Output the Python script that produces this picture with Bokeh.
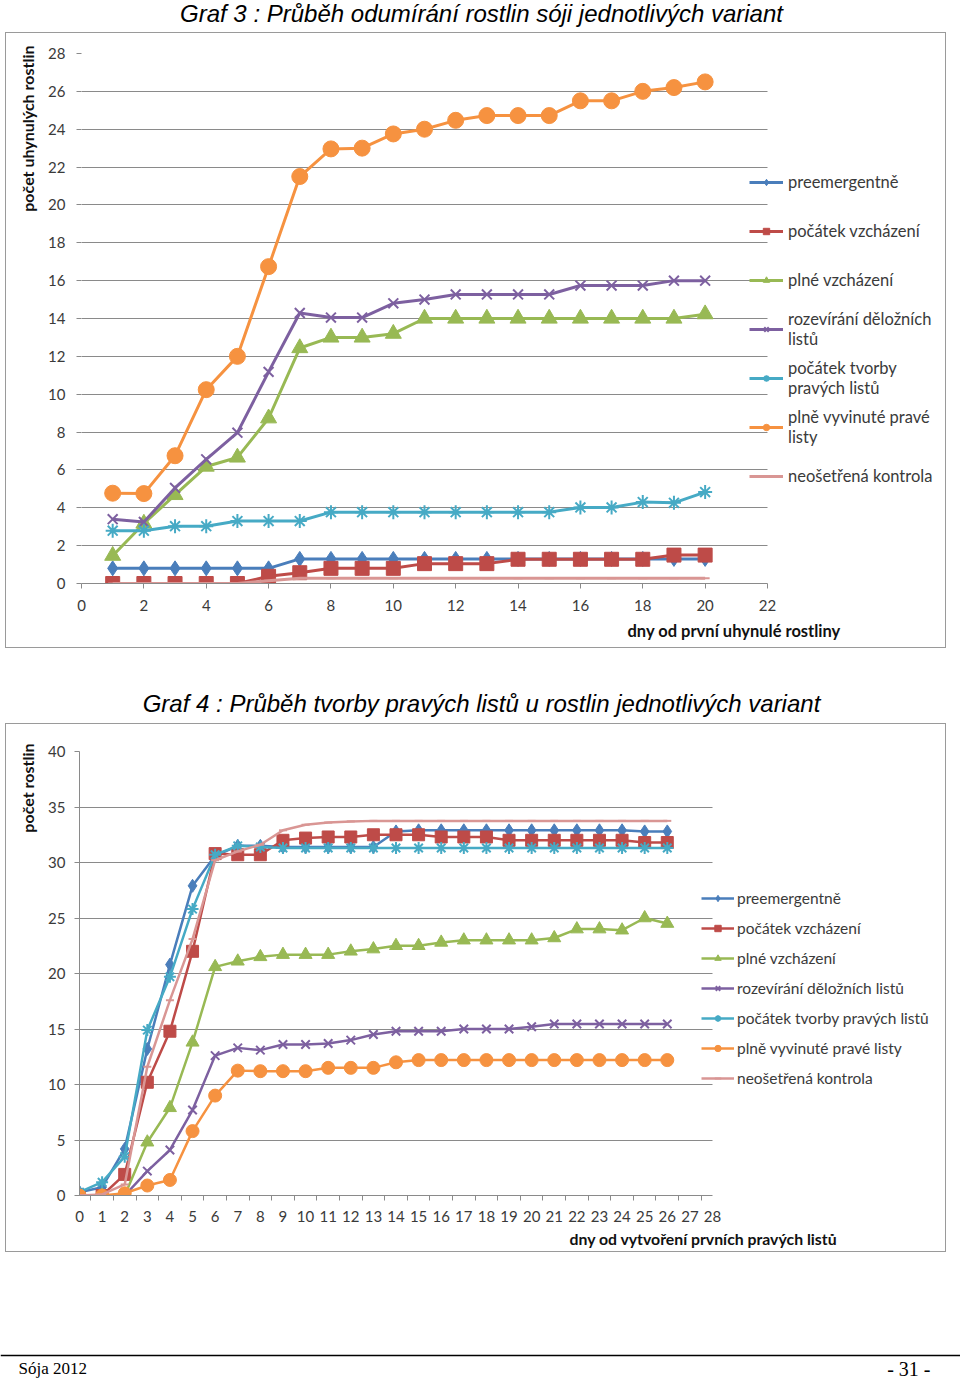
from bokeh.plotting import figure
from bokeh.models import Range1d, FixedTicker, Legend, LegendItem, Title, Span, Grid
from bokeh.core.properties import value
from bokeh.embed import file_html
from bokeh.resources import INLINE

# ---------------- data ----------------
series_names = ["preemergentně", "počátek vzcházení", "plné vzcházení",
                "rozevírání děložních listů", "počátek tvorby pravých listů",
                "plně vyvinuté pravé listy", "neošetřená kontrola"]
g3_legend_labels = ["preemergentně", "počátek vzcházení", "plné vzcházení",
                    "rozevírání děložních\nlistů", "počátek tvorby\npravých listů",
                    "plně vyvinuté pravé\nlisty", "neošetřená kontrola"]

g3_title = "Graf 3 : Průběh odumírání rostlin sóji jednotlivých variant"
g3_xlabel = "dny od první uhynulé rostliny"
g3_ylabel = "počet uhynulých rostlin"
g3_days = [1, 2, 3, 4, 5, 6, 7, 8, 9, 10, 11, 12, 13, 14, 15, 16, 17, 18, 19, 20]
g3_preemergentne = [0.8, 0.8, 0.8, 0.8, 0.8, 0.8, 1.3, 1.3, 1.3, 1.3, 1.3, 1.3, 1.3, 1.3, 1.3, 1.3, 1.3, 1.3, 1.3, 1.3]
g3_pocatek_vzchazeni = [0, 0, 0, 0, 0, 0.38, 0.57, 0.8, 0.8, 0.8, 1.05, 1.05, 1.05, 1.28, 1.28, 1.28, 1.28, 1.28, 1.5, 1.5]
g3_plne_vzchazeni = [1.47, 3.17, 4.68, 6.18, 6.66, 8.73, 12.44, 13.0, 13.0, 13.2, 14.0, 14.0, 14.0, 14.0, 14.0, 14.0, 14.0, 14.0, 14.0, 14.23]
g3_rozevirani = [3.4, 3.25, 5.05, 6.56, 7.97, 11.18, 14.29, 14.05, 14.05, 14.8, 15.0, 15.27, 15.27, 15.27, 15.27, 15.74, 15.74, 15.74, 16.0, 16.0]
g3_pocatek_tvorby = [2.79, 2.79, 3.03, 3.03, 3.3, 3.3, 3.3, 3.77, 3.77, 3.77, 3.77, 3.77, 3.77, 3.77, 3.77, 4.02, 4.02, 4.3, 4.26, 4.83]
g3_plne_vyvinute = [4.77, 4.75, 6.75, 10.24, 12.0, 16.74, 21.5, 22.96, 23.0, 23.75, 24.0, 24.47, 24.72, 24.72, 24.72, 25.5, 25.5, 26.0, 26.2, 26.5]
g3_kontrola = [0, 0, 0, 0, 0, 0.15, 0.28, 0.28, 0.28, 0.28, 0.28, 0.28, 0.28, 0.28, 0.28, 0.28, 0.28, 0.28, 0.28, 0.28]
g3_xticks = [0, 2, 4, 6, 8, 10, 12, 14, 16, 18, 20, 22]
g3_yticks = [0, 2, 4, 6, 8, 10, 12, 14, 16, 18, 20, 22, 24, 26, 28]

g4_title = "Graf 4 : Průběh tvorby pravých listů u rostlin jednotlivých variant"
g4_xlabel = "dny od vytvoření prvních pravých listů"
g4_ylabel = "počet rostlin"
g4_days = [0, 1, 2, 3, 4, 5, 6, 7, 8, 9, 10, 11, 12, 13, 14, 15, 16, 17, 18, 19, 20, 21, 22, 23, 24, 25, 26]
g4_preemergentne = [0.3, 0.75, 4.2, 13.2, 20.8, 27.9, 30.6, 31.5, 31.5, 31.4, 31.4, 31.4, 31.4, 31.4, 32.8, 32.9, 32.9, 32.9, 32.9, 32.9, 32.9, 32.9, 32.9, 32.9, 32.9, 32.8, 32.8]
g4_pocatek_vzchazeni = [0, 0, 1.9, 10.2, 14.8, 22.0, 30.8, 30.7, 30.7, 32.0, 32.2, 32.3, 32.3, 32.5, 32.5, 32.5, 32.3, 32.3, 32.3, 32.0, 32.0, 32.0, 32.0, 32.0, 32.0, 31.8, 31.8]
g4_plne_vzchazeni = [0, 0, 0, 4.8, 7.9, 13.8, 20.6, 21.1, 21.5, 21.7, 21.7, 21.7, 22.0, 22.2, 22.5, 22.5, 22.8, 23.0, 23.0, 23.0, 23.0, 23.2, 24.0, 24.0, 23.9, 25.0, 24.5]
g4_rozevirani = [0, 0, 0, 2.2, 4.1, 7.7, 12.6, 13.3, 13.1, 13.6, 13.6, 13.7, 14.0, 14.5, 14.8, 14.8, 14.8, 15.0, 15.0, 15.0, 15.2, 15.45, 15.45, 15.45, 15.45, 15.45, 15.45]
g4_pocatek_tvorby = [0.3, 1.2, 3.5, 14.9, 19.7, 25.8, 30.7, 31.5, 31.4, 31.3, 31.3, 31.3, 31.3, 31.3, 31.3, 31.3, 31.3, 31.3, 31.3, 31.3, 31.3, 31.3, 31.3, 31.3, 31.3, 31.3, 31.3]
g4_plne_vyvinute = [0, 0, 0.2, 0.9, 1.4, 5.8, 9.0, 11.25, 11.2, 11.2, 11.2, 11.5, 11.5, 11.5, 12.0, 12.2, 12.2, 12.2, 12.2, 12.2, 12.2, 12.2, 12.2, 12.2, 12.2, 12.2, 12.2]
g4_kontrola = [0, 0.1, 1.0, 11.6, 17.6, 23.1, 30.2, 31.0, 31.6, 32.9, 33.4, 33.6, 33.7, 33.75, 33.75, 33.75, 33.75, 33.75, 33.75, 33.75, 33.75, 33.75, 33.75, 33.75, 33.75, 33.75, 33.75]
g4_xticks = [0, 1, 2, 3, 4, 5, 6, 7, 8, 9, 10, 11, 12, 13, 14, 15, 16, 17, 18, 19, 20, 21, 22, 23, 24, 25, 26, 27, 28]
g4_yticks = [0, 5, 10, 15, 20, 25, 30, 35, 40]

footer_left = "Sója 2012"
footer_right = "- 31 -"

# ---------------- style ----------------
COLORS = ["#4A7EBB", "#BE4B48", "#98B954", "#7D60A0", "#46AAC5", "#F69240", "#D99694"]
MARKERS = ["diamond", "square", "triangle", "x", "asterisk", "circle", "dash"]
GRID = "#8a8a8a"
TXT = "#3a3a3a"
FONT = "Lato"
HAS_CROSS = "cross_bounds" in Grid.properties()


def text_fig(width, height):
    f = figure(width=width, height=height, x_range=Range1d(0, width), y_range=Range1d(height, 0),
               output_backend="svg", toolbar_location=None, x_axis_type=None, y_axis_type=None,
               min_border=0)
    f.outline_line_color = None
    f.grid.visible = False
    return f


def chart(width, height, x_axis_end, x_view_end, yr, yticks, borders,
          xlabel, xoff, xsize, xstand, ylabel, yoff, ysize, ystand):
    l, r, t, b = borders
    p = figure(width=width, height=height, x_range=Range1d(0, x_view_end), y_range=Range1d(*yr),
               output_backend="svg", toolbar_location=None,
               min_border_left=l, min_border_right=r, min_border_top=t, min_border_bottom=b,
               margin=(0, 0, 0, 5))
    p.styles = {"border": "1px solid #9a9a9a", "box-sizing": "border-box"}
    p.outline_line_color = None
    p.xgrid.visible = False
    p.yaxis[0].ticker = FixedTicker(ticks=yticks)
    if HAS_CROSS:
        p.ygrid.grid_line_color = GRID
        p.ygrid.cross_bounds = (0, x_axis_end)
    else:
        p.ygrid.visible = False
        p.segment(x0=[0] * len(yticks), x1=[x_axis_end] * len(yticks), y0=yticks, y1=yticks,
                  line_color=GRID, line_width=1)
    p.xaxis[0].bounds = (0, x_axis_end)
    for ax in (p.xaxis[0], p.yaxis[0]):
        ax.major_label_text_font = FONT
        ax.major_label_text_font_size = "15px"
        ax.major_label_text_color = TXT
        ax.major_tick_in = 0
        ax.minor_tick_in = 0
        ax.minor_tick_out = 0
        ax.major_tick_line_color = GRID
        ax.axis_line_color = GRID
    p.add_layout(Title(text=xlabel, align="left", offset=xoff, text_font=FONT,
                       text_font_size=xsize, text_font_style="bold", text_color="#111111",
                       standoff=xstand), "below")
    p.add_layout(Title(text=ylabel, align="right", offset=yoff, text_font=FONT,
                       text_font_size=ysize, text_font_style="bold", text_color="#111111",
                       standoff=ystand), "left")
    return p


def add_series(p, xs, ys_list, labels, msizes, lw):
    items = []
    for i, ys in enumerate(ys_list):
        c = COLORS[i]
        ln = p.line(xs, ys, line_color=c, line_width=lw, line_join="round")
        mk = p.scatter(xs, ys, marker=MARKERS[i], size=msizes[i], fill_color=c,
                       line_color=c, line_width=2 if MARKERS[i] in ("x", "asterisk", "dash") else 1)
        items.append(LegendItem(label=labels[i], renderers=[ln, mk]))
    return items


# ---------------- title 1 ----------------
t1 = text_fig(960, 32)
t1.text(x=[481], y=[13], text=[g3_title], text_align="center", text_baseline="middle",
        text_font=value("Liberation Sans"), text_font_style="italic", text_font_size="24px",
        text_color="#000000")

# ---------------- chart 1 ----------------
# plot frame: page x 80 .. 940 ; x axis 0..22 occupies page x 80 .. 766
C1_AXIS_END = g3_xticks[-1]
C1_VIEW_END = C1_AXIS_END * (940 - 80) / (766 - 80)
p1 = chart(941, 616, C1_AXIS_END, C1_VIEW_END, (0, 28), g3_yticks, (75, 6, 20, 66),
           g3_xlabel, 546, "16.5px", 10, g3_ylabel, -8, "16px", 17)
p1.xaxis[0].ticker = FixedTicker(ticks=g3_xticks)
p1.xaxis[0].major_tick_out = 5
p1.yaxis[0].major_tick_out = 5
p1.yaxis[0].axis_line_color = None
p1.xaxis[0].major_label_standoff = 11
p1.yaxis[0].major_label_standoff = 11
g3_series = [g3_preemergentne, g3_pocatek_vzchazeni, g3_plne_vzchazeni, g3_rozevirani,
             g3_pocatek_tvorby, g3_plne_vyvinute, g3_kontrola]
items1 = add_series(p1, g3_days, g3_series, g3_legend_labels, [15, 14, 16, 14, 14, 16, 9], 3)
leg1 = Legend(items=items1, location=(668, 86), glyph_width=34, glyph_height=16,
              label_standoff=5, label_height=42, spacing=7, padding=0, margin=0,
              border_line_color=None, background_fill_alpha=0,
              label_text_font=FONT, label_text_font_size="16.5px", label_text_color=TXT)
p1.add_layout(leg1)

# ---------------- title 2 ----------------
t2 = text_fig(960, 75)
t2.text(x=[481], y=[55], text=[g4_title], text_align="center", text_baseline="middle",
        text_font=value("Liberation Sans"), text_font_style="italic", text_font_size="24px",
        text_color="#000000")

# ---------------- chart 2 ----------------
# plot frame: page x 78 .. 940 ; x axis 0..28 occupies page x 78 .. 711
C2_AXIS_END = g4_xticks[-1]
C2_VIEW_END = C2_AXIS_END * (940 - 78) / (711 - 78)
p2 = chart(941, 529, C2_AXIS_END, C2_VIEW_END, (0, 40), g4_yticks, (73, 6, 27, 58),
           g4_xlabel, 490, "15.8px", 4, g4_ylabel, -8, "16px", 17)
p2.xaxis[0].ticker = FixedTicker(ticks=g4_xticks, minor_ticks=[v + 0.5 for v in g4_xticks[:-1]])
p2.xaxis[0].major_tick_out = 0
p2.xaxis[0].minor_tick_out = 5
p2.xaxis[0].minor_tick_line_color = GRID
p2.yaxis[0].major_tick_out = 5
p2.xaxis[0].major_label_standoff = 10
p2.yaxis[0].major_label_standoff = 9
g4_series = [g4_preemergentne, g4_pocatek_vzchazeni, g4_plne_vzchazeni, g4_rozevirani,
             g4_pocatek_tvorby, g4_plne_vyvinute, g4_kontrola]
items2 = add_series(p2, g4_days, g4_series, series_names, [13, 12, 13, 12, 12, 13, 8], 2.5)
leg2 = Legend(items=items2, location=(622, 107), glyph_width=33, glyph_height=16,
              label_standoff=3, label_height=20, spacing=10, padding=0, margin=0,
              border_line_color=None, background_fill_alpha=0,
              label_text_font=FONT, label_text_font_size="15.5px", label_text_color=TXT)
p2.add_layout(leg2)

# ---------------- footer ----------------
ft = text_fig(960, 127)
ft.add_layout(Span(location=103, dimension="width", line_color="#000000", line_width=1.5))
ft.text(x=[18], y=[116], text=[footer_left], text_align="left", text_baseline="middle",
        text_font=value("Liberation Serif"), text_font_size="17px", text_color="#000000")
ft.text(x=[930], y=[116], text=[footer_right], text_align="right", text_baseline="middle",
        text_font=value("Liberation Serif"), text_font_size="20px", text_color="#000000")

open("out.html", "w").write(file_html([t1, p1, t2, p2, ft], INLINE))
